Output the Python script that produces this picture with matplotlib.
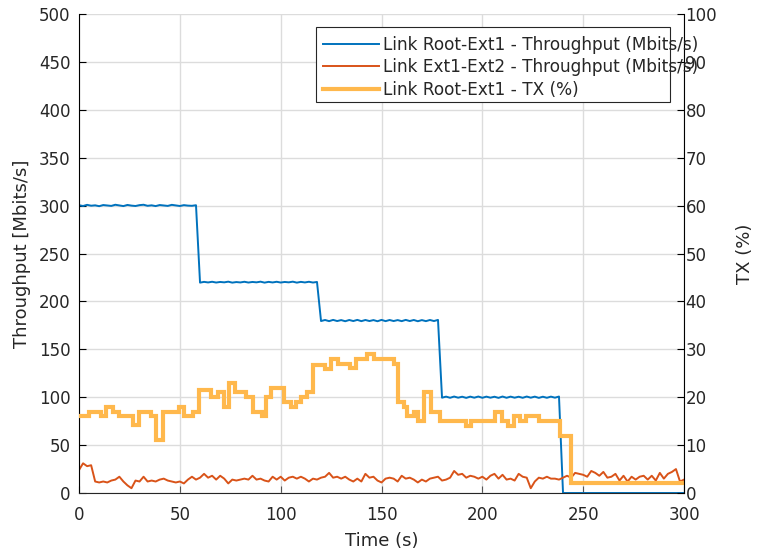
import numpy as np
import matplotlib
matplotlib.use("Agg")
import matplotlib.pyplot as plt
from matplotlib.patches import Rectangle

# Sample times (s) for the two throughput series
time_s = np.arange(0, 301, 2)

# Link Root-Ext1 throughput (Mbits/s), one value every 2 s
root_ext1_tput = [
    300.4, 299.6, 300.8, 299.9, 300.3, 299.4, 300.6, 300.1, 299.7, 300.9,
    300.2, 299.5, 300.7, 300.0, 299.6, 300.5, 300.9, 299.8, 300.3, 299.5,
    300.6, 300.1, 299.7, 300.8, 300.2, 299.6, 300.5, 300.0, 299.8, 300.4,
    219.6, 220.4, 219.8, 220.5, 219.7, 220.3, 219.9, 220.6, 219.6, 220.2,
    219.8, 220.5, 219.7, 220.3, 219.9, 220.6, 219.6, 220.4, 219.8, 220.5,
    219.7, 220.3, 219.9, 220.6, 219.6, 220.4, 219.8, 220.5, 219.7, 220.3,
    179.5, 180.6, 179.4, 180.7, 179.5, 180.5, 179.3, 180.6, 179.5, 180.7,
    179.4, 180.6, 179.5, 180.5, 179.3, 180.7, 179.4, 180.6, 179.5, 180.5,
    179.4, 180.7, 179.5, 180.6, 179.3, 180.5, 179.4, 180.6, 179.5, 180.7,
    99.5, 100.6, 99.4, 100.7, 99.5, 100.5, 99.3, 100.6, 99.5, 100.7,
    99.4, 100.6, 99.5, 100.5, 99.3, 100.7, 99.4, 100.6, 99.5, 100.5,
    99.4, 100.7, 99.5, 100.6, 99.3, 100.5, 99.4, 100.6, 99.5, 100.7,
    0, 0, 0, 0, 0, 0, 0, 0, 0, 0,
    0, 0, 0, 0, 0, 0, 0, 0, 0, 0,
    0, 0, 0, 0, 0, 0, 0, 0, 0, 0, 0,
]

# Link Ext1-Ext2 throughput (Mbits/s), one value every 2 s
ext1_ext2_tput = [
    24, 31, 28, 29, 12, 11, 12, 11, 13, 14,
    17, 12, 8, 5, 13, 12, 17, 12, 13, 12,
    14, 15, 13, 12, 11, 12, 10, 14, 17, 14,
    16, 20, 16, 18, 14, 18, 15, 10, 14, 13,
    14, 15, 14, 18, 14, 15, 13, 12, 17, 14,
    17, 13, 16, 17, 15, 17, 15, 12, 15, 14,
    16, 17, 21, 16, 17, 15, 17, 14, 12, 15,
    12, 20, 16, 17, 13, 11, 15, 16, 15, 12,
    18, 15, 16, 14, 11, 14, 12, 15, 16, 17,
    13, 14, 16, 23, 19, 20, 16, 18, 17, 15,
    17, 14, 18, 20, 15, 19, 14, 15, 13, 20,
    17, 16, 5, 12, 16, 15, 17, 15, 15, 14,
    16, 18, 16, 21, 20, 19, 17, 23, 21, 18,
    22, 16, 17, 20, 13, 18, 12, 17, 14, 17,
    18, 14, 18, 13, 21, 15, 20, 22, 25, 12,
    14,
]

# Link Root-Ext1 TX (%): each level holds from its start time to the next one
tx_start = [0, 5, 11, 13.5, 17, 20, 27, 29.5, 35.5, 38, 41.5, 49.5, 52, 56.5,
            59.5, 65.5, 69, 72, 74.5, 77.5, 83, 86.5, 90.5, 92.5, 95, 101.5,
            105, 107.5, 110, 113, 116, 122, 125, 128.5, 134.5, 137.5, 143,
            146.5, 156, 158, 161, 162.5, 166, 168, 171, 174.5, 179, 192, 194.5,
            206.5, 209.5, 212.5, 215.5, 218.5, 221.5, 228, 238.5, 244]
tx_value = [16, 17, 16, 18, 17, 16, 14.2, 17, 16, 11, 17, 18, 16, 17,
            21.5, 20, 21, 18, 23, 21, 20, 17, 16, 20, 22, 19,
            18, 19, 20, 21, 26.7, 25.8, 28, 27, 26, 28, 29,
            28, 27, 19, 18, 16, 17, 15, 21, 17, 15, 14, 15,
            17, 15, 14, 16, 15, 16, 15, 12, 2]
t_end = 300

x_ticks = [0, 50, 100, 150, 200, 250, 300]
left_ticks = list(range(0, 501, 50))
right_ticks = list(range(0, 101, 10))

labels = ["Link Root-Ext1 - Throughput (Mbits/s)",
          "Link Ext1-Ext2 - Throughput (Mbits/s)",
          "Link Root-Ext1 - TX (%)"]

c_blue = "#0072BD"
c_orange = "#D95319"
c_yellow = "#FFB84C"
c_text = "#262626"

plt.rcParams["font.family"] = ["DejaVu Sans"]

fig = plt.figure(figsize=(7.57, 5.56), dpi=100)
ax = fig.add_axes([0.1044, 0.1133, 0.7992, 0.8615])
ax2 = ax.twinx()

l1, = ax.plot(time_s, root_ext1_tput, color=c_blue, lw=1.4)
l2, = ax.plot(time_s, ext1_ext2_tput, color=c_orange, lw=1.4)
l3, = ax2.step(np.append(tx_start, t_end), np.append(tx_value, tx_value[-1]),
               where="post", color=c_yellow, lw=3.0, solid_joinstyle="miter")

ax.set_xlim(0, 300)
ax.set_ylim(0, 500)
ax2.set_ylim(0, 100)
ax.set_xticks(x_ticks)
ax.set_yticks(left_ticks)
ax2.set_yticks(right_ticks)

ax.grid(True, color="#dcdcdc", lw=1.0)
ax.set_axisbelow(True)

for a in (ax, ax2):
    a.spines["top"].set_visible(False)
ax.spines["right"].set_visible(False)
ax2.spines["left"].set_visible(False)
ax2.spines["bottom"].set_visible(False)
ax.spines["left"].set_color("black")
ax.spines["bottom"].set_color("#262626")
ax2.spines["right"].set_color("black")

ax.tick_params(axis="x", direction="in", length=5, color="#555555",
               labelsize=12, labelcolor=c_text, pad=9)
ax.tick_params(axis="y", direction="in", length=5, color="black",
               labelsize=12, labelcolor=c_text, pad=6)
ax2.tick_params(axis="y", direction="in", length=5, color="black",
                labelsize=12, labelcolor=c_text, pad=1)

ax.set_xlabel("Time (s)", fontsize=13, color=c_text, labelpad=6)
ax.set_ylabel("Throughput [Mbits/s]", fontsize=13, color=c_text, labelpad=6)
ax2.set_ylabel("TX (%)", fontsize=13, color=c_text, labelpad=14)

# Legend frame drawn separately so the long labels run past its edge
box = Rectangle((0.3917, 0.8163), 0.5852, 0.1566, transform=ax2.transAxes,
                facecolor="white", edgecolor="#262626", lw=0.8, zorder=5)
ax2.add_patch(box)
leg = ax2.legend([l1, l2, l3], labels, loc="upper left",
                 bbox_to_anchor=(0.403, 0.955), frameon=False, fontsize=12.2,
                 handlelength=3.3, handletextpad=0.24, labelspacing=0.28,
                 borderpad=0, borderaxespad=0)
leg.set_zorder(6)
for t in leg.get_texts():
    t.set_color(c_text)

fig.savefig("out.png", dpi=100)
